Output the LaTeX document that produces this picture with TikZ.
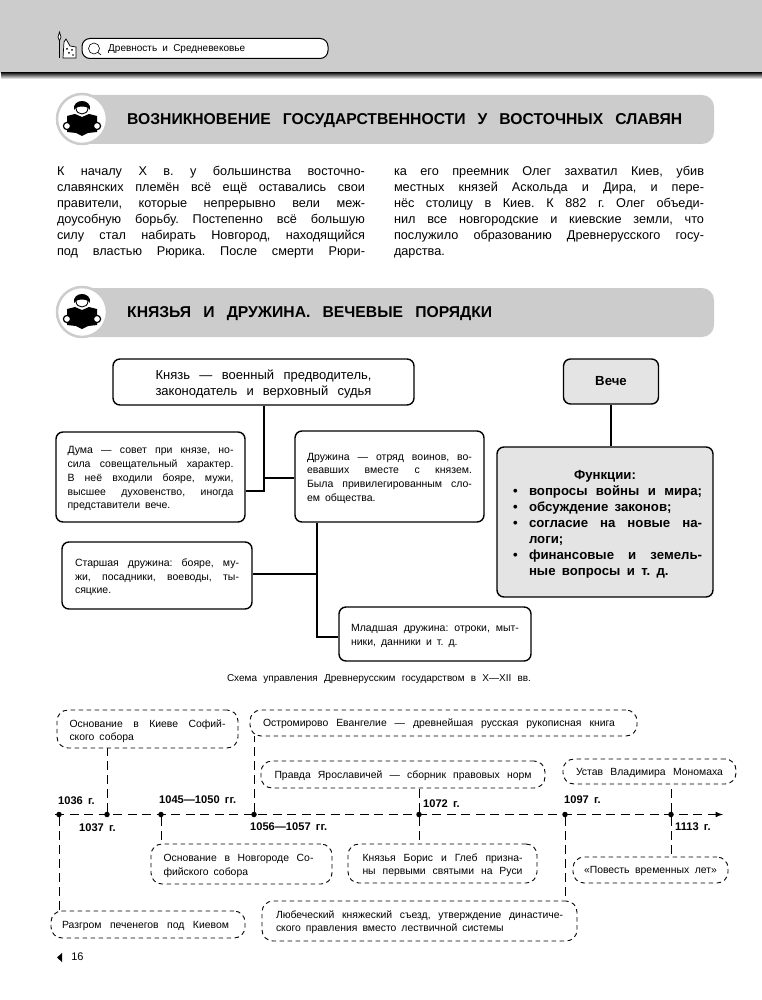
\documentclass[tikz,border=0pt]{standalone}
\usepackage{fontspec}
\setmainfont{Liberation Sans}
\frenchspacing
\definecolor{grau}{HTML}{CCCCCC}
\definecolor{hell}{HTML}{E4E4E4}
\newcommand{\shir}{\spaceskip=.3em plus 1fil minus .1em\relax}
\newcommand{\uzk}{\spaceskip=.48em\relax}
\newcommand{\jl}[2][\hsize]{\hbox to #1{\shir #2}}
\newcommand{\jr}[1]{\hbox to \hsize{\uzk #1\hfil}}
\newcommand{\jg}[1]{\hbox{\uzk #1}}
\newcommand{\jb}[1]{\hbox to \hsize{\shir\hbox to 21pt{\hskip5pt •\hss}#1}}
\newcommand{\je}[1]{\hbox to \hsize{\uzk\hbox to 21pt{\hskip5pt •\hss}#1\hfil}}
\newcommand{\jd}[1]{\hbox to \hsize{\uzk\hskip21pt #1\hfil}}
\tikzset{
  chitatel/.pic={
    \fill[white, draw=grau, line width=2.5pt] (0,0) circle (25);
    \draw[line width=0.9pt, fill=white] (-6,-11) .. controls (-6,-3) and (6,-3) .. (6,-11);
    \fill (-8,-9) .. controls (-10,-21) and (10,-21) .. (8,-9) -- (6,-11) .. controls (4,-13) and (-4,-13) .. (-6,-11) -- cycle;
    \fill (-15,-3) -- (-7,-5) -- (0,-2) -- (7,-5) -- (15,-3) -- (15,13) -- (6,14) -- (0,17) -- (-6,14) -- (-15,13) -- cycle;
    \draw[fill=white, line width=1.2pt] (-15,7) circle (3.6) (15,7) circle (3.6);
  }
}
\begin{document}
\begin{tikzpicture}[
    x=1pt, y=-1pt,
    blok/.style={draw, line width=1.4pt, rounded corners=7pt, inner sep=0pt, font=\fontsize{10.5}{13.7}\selectfont},
    seryj/.style={blok, fill=hell, font=\bfseries\fontsize{13.2}{16}\selectfont},
    liniya/.style={line width=1.4pt},
    punktir/.style={draw, text depth=-1.5pt, dash pattern=on 4.5pt off 3.5pt, line width=0.9pt, rounded corners=11pt, inner sep=0pt, font=\fontsize{10.4}{13.3}\selectfont},
    svjaz/.style={dash pattern=on 9pt off 5pt, line width=0.9pt},
    tochka/.style={circle, fill=black, inner sep=0pt, minimum size=5.5pt},
    god/.style={anchor=west, inner sep=0pt, font=\bfseries\fontsize{11.1}{13}\selectfont},
    titel/.style={anchor=west, text depth=-1.5pt, inner sep=0pt, font=\bfseries\fontsize{15.7}{18}\selectfont},
    absatz/.style={text depth=80pt, inner sep=0pt, font=\fontsize{12.7}{16.1}\selectfont}
  ]
  \useasboundingbox (0,0) rectangle (762,1000);

  \fill[grau] (0,0) rectangle (762,73);
  \shade[top color=black!85, bottom color=white] (1,73) rectangle (762,79);
  \draw[line width=0.8pt] (59.5,40) -- (59.5,58);
  \draw[line width=0.7pt, fill=white] (59.5,32) -- (61,37) -- (59.5,41) -- (58,37) -- cycle;
  \draw[line width=0.7pt, fill=white] (63,58) -- (64,42) -- (66,39) -- (70,46) -- (76,47) -- (76,58) -- cycle;
  \fill (67,49) circle (1) (72,50) circle (1) (69,53) circle (1) (73,55) circle (0.8);
  \node[draw, fill=white, line width=1pt, rounded corners=8pt, minimum width=246, minimum height=20, inner sep=0pt] (pojas) at (205,48.5) {};
  \draw[line width=0.6pt] (94,48.5) circle (5.5) (98,52.5) -- (101,55);
  \node[anchor=west, text depth=1pt, inner sep=0pt, text width=137, font=\fontsize{10}{12}\selectfont] (razdel) at (108,49) {\jl{Древность и Средневековье}};

  \fill[grau] (82,95) {[rounded corners=12pt] -- (714,95) -- (714,144)} -- (82,144) -- cycle;
  \pic at (82,119) {chitatel};
  \node[titel, text width=555] (titel1) at (127,119) {\jl{ВОЗНИКНОВЕНИЕ ГОСУДАРСТВЕННОСТИ У ВОСТОЧНЫХ СЛАВЯН}};

  \node[absatz, text width=308] (levyj) at (211,210.5) {%
    \jl{К началу X в. у большинства восточно-}
    \jl{славянских племён всё ещё оставались свои}
    \jl{правители, которые непрерывно вели меж-}
    \jl{доусобную борьбу. Постепенно всё большую}
    \jl{силу стал набирать Новгород, находящийся}
    \jl{под властью Рюрика. После смерти Рюри-}};
  \node[absatz, text width=310] (pravyj) at (549,210.5) {%
    \jl{ка его преемник Олег захватил Киев, убив}
    \jl{местных князей Аскольда и Дира, и пере-}
    \jl{нёс столицу в Киев. К 882 г. Олег объеди-}
    \jl{нил все новгородские и киевские земли, что}
    \jl{послужило образованию Древнерусского госу-}
    \jr{дарства.}};

  \fill[grau] (82,288) {[rounded corners=12pt] -- (714,288) -- (714,337)} -- (82,337) -- cycle;
  \pic at (82,312) {chitatel};
  \node[titel, text width=365] (titel2) at (127,312) {\jl{КНЯЗЬЯ И ДРУЖИНА. ВЕЧЕВЫЕ ПОРЯДКИ}};

  \node[blok, text depth=14.5pt, minimum width=301, minimum height=46, text width=216, font=\fontsize{13}{16}\selectfont] (knjaz) at (263.5,382) {%
    \jl{Князь — военный предводитель,}
    \jl{законодатель и верховный судья}};
  \node[blok, text depth=53.3pt, minimum width=189, minimum height=90, text width=166] (duma) at (150.5,477) {%
    \jl{Дума — совет при князе, но-}
    \jl{сила совещательный характер.}
    \jl{В неё входили бояре, мужи,}
    \jl{высшее духовенство, иногда}
    \jr{представители вече.}};
  \node[blok, text depth=40pt, minimum width=189, minimum height=91, text width=165] (druzhina) at (389.5,476.5) {%
    \jl{Дружина — отряд воинов, во-}
    \jl{евавших вместе с князем.}
    \jl{Была привилегированным сло-}
    \jr{ем общества.}};
  \node[blok, text depth=25.9pt, minimum width=190, minimum height=67, text width=164] (starshaja) at (157,575.5) {%
    \jl{Старшая дружина: бояре, му-}
    \jl{жи, посадники, воеводы, ты-}
    \jr{сяцкие.}};
  \node[blok, text depth=12.2pt, minimum width=192, minimum height=54, text width=168] (mladshaja) at (435,634) {%
    \jl{Младшая дружина: отроки, мыт-}
    \jr{ники, данники и т. д.}};
  \node[seryj, text depth=1pt, minimum width=95, minimum height=45] (veche) at (611,381.5) {Вече};
  \node[seryj, text depth=94.5pt, minimum width=216, minimum height=150, text width=194] (funkcii) at (605,522) {%
    \hbox to \hsize{\hfil Функции:\hfil}
    \jb{вопросы войны и мира;}
    \je{обсуждение законов;}
    \jb{согласие на новые на-}
    \jd{логи;}
    \jb{финансовые и земель-}
    \jd{ные вопросы и т. д.}};
  \coordinate (uzel1) at (264,491);
  \coordinate (uzel2) at (264,478);
  \coordinate (uzel3) at (317,574);
  \coordinate (uzel4) at (317,637);
  \draw[liniya] (knjaz.south -| uzel1) -- (uzel1) -- (uzel1 -| duma.east);
  \draw[liniya] (uzel2) -- (uzel2 -| druzhina.west);
  \draw[liniya] (druzhina.south -| uzel4) -- (uzel4) -- (uzel4 -| mladshaja.west);
  \draw[liniya] (uzel3) -- (uzel3 -| starshaja.east);
  \draw[liniya] (veche.south) -- (veche.south |- funkcii.north);

  \node[text depth=-1.5pt, inner sep=0pt, text width=304, font=\fontsize{10}{12}\selectfont] (podpis) at (379,678) {\jl{Схема управления Древнерусским государством в X—XII вв.}};

  \node[punktir, text depth=11.3pt, minimum width=181, minimum height=38, text width=156] (sofia) at (147.5,729) {%
    \jl{Основание в Киеве Софий-}
    \jr{ского собора}};
  \node[punktir, text depth=-7pt, minimum width=387, minimum height=26, text width=361] (evangelie) at (443.5,723) {%
    \jl[352pt]{Остромирово Евангелие — древнейшая русская рукописная книга}};
  \node[punktir, minimum width=284, minimum height=27, text width=257] (pravda) at (403,774.5) {%
    \jl{Правда Ярославичей — сборник правовых норм}};
  \node[punktir, text depth=0pt, minimum width=173, minimum height=25, text width=147] (ustav) at (649.5,771.5) {%
    \jl{Устав Владимира Мономаха}};
  \node[punktir, text depth=11.8pt, minimum width=181, minimum height=40, text width=156] (novgorod) at (241.5,864) {%
    \jl[150pt]{Основание в Новгороде Со-}
    \jr{фийского собора}};
  \node[punktir, text depth=11.8pt, minimum width=189, minimum height=39, text width=160] (boris) at (442.5,863.5) {%
    \jl{Князья Борис и Глеб призна-}
    \jl{ны первыми святыми на Руси}};
  \node[punktir, minimum width=155, minimum height=26, text width=133] (povest) at (650.5,870) {%
    \jl{«Повесть временных лет»}};
  \node[punktir, text depth=0pt, minimum width=194, minimum height=27, text width=172] (razgrom) at (148,924.5) {%
    \jl[167pt]{Разгром печенегов под Киевом}};
  \node[punktir, text depth=13.3pt, minimum width=315, minimum height=40, text width=287] (ljubech) at (419.5,921) {%
    \jl{Любеческий княжеский съезд, утверждение династиче-}
    \jr{ского правления вместо лествичной системы}};

  \coordinate (nachalo) at (55,814.5);
  \coordinate (konec) at (723,814.5);
  \draw[-latex, line width=1.5pt, dash pattern=on 9pt off 5.5pt] (nachalo) -- (konec);
  \node[tochka] (t1036) at (59,814.5) {};
  \node[tochka] (t1037) at (107,814.5) {};
  \node[tochka] (t1045) at (161,814.5) {};
  \node[tochka] (t1056) at (254,814.5) {};
  \node[tochka] (t1072) at (419,814.5) {};
  \node[tochka] (t1097) at (565,814.5) {};
  \node[tochka] (t1113) at (671,814.5) {};
  \draw[svjaz] (t1036) -- (t1036 |- razgrom.north);
  \draw[svjaz] (t1037) -- (t1037 |- sofia.south);
  \draw[svjaz] (t1045) -- (t1045 |- novgorod.north);
  \draw[svjaz] (t1056) -- (t1056 |- evangelie.south);
  \draw[svjaz] (t1072) -- (t1072 |- pravda.south);
  \draw[svjaz] (t1072) -- (t1072 |- boris.north);
  \draw[svjaz] (t1097) -- (t1097 |- ljubech.north);
  \draw[svjaz] (t1113) -- (t1113 |- ustav.south);
  \draw[svjaz] (t1113) -- (t1113 |- povest.north);

  \node[god] (g1036) at (58,800.5) {\jg{1036 г.}};
  \node[god] (g1037) at (79,827.5) {\jg{1037 г.}};
  \node[god] (g1045) at (159,799.5) {\jg{1045—1050 гг.}};
  \node[god] (g1056) at (250,826.5) {\jg{1056—1057 гг.}};
  \node[god] (g1072) at (423,803.5) {\jg{1072 г.}};
  \node[god] (g1097) at (564,799.5) {\jg{1097 г.}};
  \node[god] (g1113) at (675,826.5) {\jg{1113 г.}};

  \fill (57,957.5) -- (62,953) -- (62,962) -- cycle;
  \node[inner sep=0pt, font=\fontsize{11}{13}\selectfont] (stranica) at (77.5,957) {16};
\end{tikzpicture}
\end{document}
